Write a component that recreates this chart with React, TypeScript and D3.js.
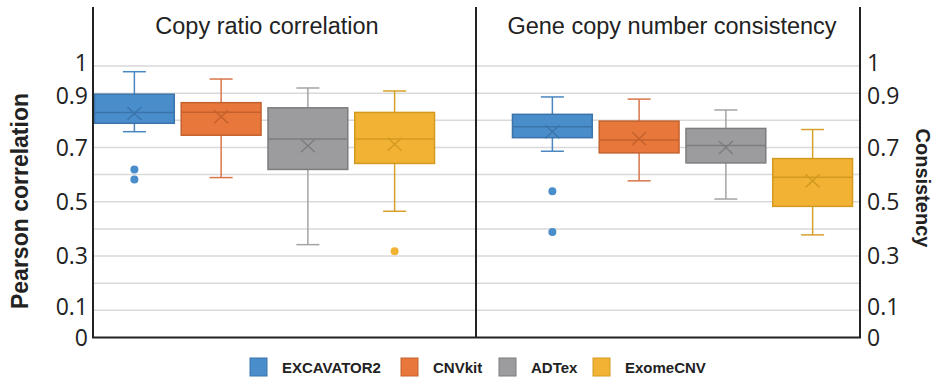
import { scaleBand, scaleLinear } from "d3";

const methods = ["EXCAVATOR2", "CNVkit", "ADTex", "ExomeCNV"];
const fills = ["#4a8dcb", "#e8773b", "#9c9c9f", "#f2b334"];
const strokes = ["#3b74aa", "#c4622d", "#7d7d80", "#d39a22"];
const whiskerColors = ["#4a86c0", "#d8764a", "#a4a4a6", "#d7a02a"];

// Copy ratio correlation
const ratioLow = [0.758, 0.589, 0.342, 0.465];
const ratioQ1 = [0.789, 0.745, 0.619, 0.641];
const ratioMedian = [0.829, 0.83, 0.731, 0.731];
const ratioQ3 = [0.896, 0.865, 0.846, 0.829];
const ratioHigh = [0.979, 0.952, 0.919, 0.908];
const ratioMean = [0.825, 0.813, 0.706, 0.712];
const ratioOutliers = [[0.619, 0.582], [], [], [0.318]];

// Gene copy number consistency
const geneLow = [0.686, 0.577, 0.51, 0.378];
const geneQ1 = [0.736, 0.68, 0.643, 0.483];
const geneMedian = [0.776, 0.727, 0.707, 0.59];
const geneQ3 = [0.822, 0.797, 0.77, 0.659];
const geneHigh = [0.886, 0.878, 0.838, 0.766];
const geneMean = [0.758, 0.732, 0.7, 0.577];
const geneOutliers = [[0.539, 0.389], [], [], []];

const gridValues = [0.1, 0.2, 0.3, 0.4, 0.5, 0.6, 0.7, 0.8, 0.9, 1];
const tickLabels = [0, 0.1, 0.3, 0.5, 0.7, 0.9, 1];

const panels = [
  {
    title: "Copy ratio correlation",
    low: ratioLow, q1: ratioQ1, median: ratioMedian, q3: ratioQ3, high: ratioHigh,
    mean: ratioMean, outliers: ratioOutliers, range: [91, 438], titleX: 267,
  },
  {
    title: "Gene copy number consistency",
    low: geneLow, q1: geneQ1, median: geneMedian, q3: geneQ3, high: geneHigh,
    mean: geneMean, outliers: geneOutliers, range: [509, 856], titleX: 672,
  },
];

// labels sit a little off their gridlines in the original so they don't collide
const labelNudge = (t: number) => (t === 1 ? -3 : t === 0.9 ? 3 : t === 0.1 ? -3 : 0);

const App = () => {
  const width = 937;
  const height = 385;
  const left = 93;
  const mid = 476;
  const right = 860;
  const top = 7;
  const y = scaleLinear().domain([0, 1]).range([337.5, 66]);
  const tickFont = "'Open Sans', sans-serif";
  const sans = "'Liberation Sans', Arial, sans-serif";

  return (
    <svg
      width={width}
      height={height}
      style={{ position: "absolute", left: 0, top: 0, background: "#fff" }}
    >
      {/* gridlines */}
      {gridValues.map((v) => (
        <line key={v} x1={left} x2={right} y1={y(v)} y2={y(v)} stroke="#d9d9d9" strokeWidth={1.5} />
      ))}

      {panels.map((p, pi) => {
        const x = scaleBand().domain(methods).range(p.range as [number, number]);
        const bw = x.bandwidth() * 0.92;
        const cap = 23;
        return (
          <g key={pi}>
            <text x={p.titleX} y={34} textAnchor="middle" fontFamily={sans} fontSize={23.5} fill="#222">
              {p.title}
            </text>
            {methods.map((m, i) => {
              const cx = (x(m) ?? 0) + x.bandwidth() / 2;
              const my = y(p.mean[i]);
              return (
                <g key={m}>
                  <line x1={cx} x2={cx} y1={y(p.high[i])} y2={y(p.q3[i])} stroke={whiskerColors[i]} strokeWidth={1.5} />
                  <line x1={cx} x2={cx} y1={y(p.q1[i])} y2={y(p.low[i])} stroke={whiskerColors[i]} strokeWidth={1.5} />
                  <line x1={cx - cap / 2} x2={cx + cap / 2} y1={y(p.high[i])} y2={y(p.high[i])} stroke={whiskerColors[i]} strokeWidth={1.5} />
                  <line x1={cx - cap / 2} x2={cx + cap / 2} y1={y(p.low[i])} y2={y(p.low[i])} stroke={whiskerColors[i]} strokeWidth={1.5} />
                  <rect
                    x={cx - bw / 2}
                    y={y(p.q3[i])}
                    width={bw}
                    height={y(p.q1[i]) - y(p.q3[i])}
                    fill={fills[i]}
                    stroke={strokes[i]}
                    strokeWidth={1.5}
                  />
                  <line x1={cx - bw / 2} x2={cx + bw / 2} y1={y(p.median[i])} y2={y(p.median[i])} stroke={strokes[i]} strokeWidth={1.5} />
                  <path
                    d={`M${cx - 7},${my - 6.5}L${cx + 7},${my + 6.5}M${cx - 7},${my + 6.5}L${cx + 7},${my - 6.5}`}
                    stroke={strokes[i]}
                    strokeWidth={1.5}
                    fill="none"
                  />
                  {p.outliers[i].map((o, k) => (
                    <circle key={k} cx={cx} cy={y(o)} r={4} fill={fills[i]} />
                  ))}
                </g>
              );
            })}
          </g>
        );
      })}

      {/* axes */}
      <line x1={left} x2={left} y1={top} y2={y(0)} stroke="#222" strokeWidth={2} />
      <line x1={mid} x2={mid} y1={top} y2={y(0)} stroke="#222" strokeWidth={2} />
      <line x1={right} x2={right} y1={top} y2={y(0)} stroke="#222" strokeWidth={2} />
      <line x1={left - 1} x2={right + 1} y1={y(0)} y2={y(0)} stroke="#222" strokeWidth={2} />

      {tickLabels.map((t) => (
        <g key={t}>
          <text x={88} y={y(t) + labelNudge(t)} dy="0.35em" textAnchor="end" fontFamily={tickFont} fontSize={23} fill="#222">
            {String(t)}
          </text>
          <text x={867} y={y(t) + labelNudge(t)} dy="0.35em" textAnchor="start" fontFamily={tickFont} fontSize={23} fill="#222">
            {String(t)}
          </text>
        </g>
      ))}

      <text
        transform="translate(28,201) rotate(-90)"
        textAnchor="middle"
        fontFamily={sans}
        fontWeight="bold"
        fontSize={23}
        fill="#222"
      >
        Pearson correlation
      </text>
      <text
        transform="translate(916,188) rotate(90)"
        textAnchor="middle"
        fontFamily={sans}
        fontWeight="bold"
        fontSize={20}
        fill="#222"
      >
        Consistency
      </text>

      {/* legend */}
      {methods.map((m, i) => {
        const lx = [250, 401, 499, 593][i];
        return (
          <g key={m}>
            <rect x={lx} y={358} width={17} height={18} fill={fills[i]} stroke={strokes[i]} strokeWidth={1} />
            <text x={lx + 32} y={373} fontFamily={sans} fontWeight="bold" fontSize={15} fill="#222">
              {m}
            </text>
          </g>
        );
      })}
    </svg>
  );
};

export default App;
